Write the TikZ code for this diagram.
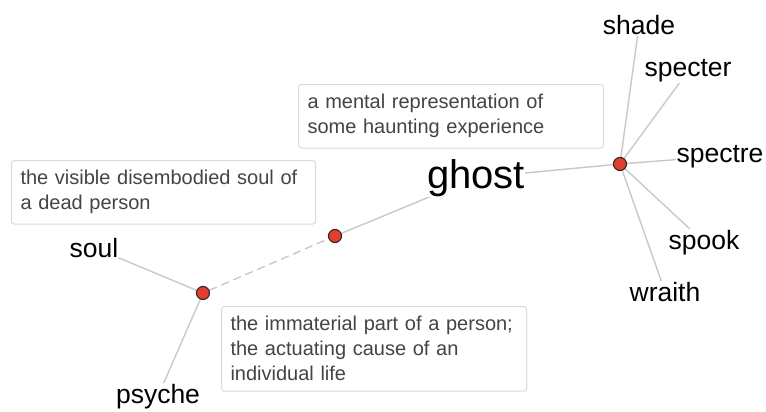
\documentclass[tikz,border=0pt]{standalone}
\usepackage{fontspec}
\setmainfont{Liberation Sans}
\usetikzlibrary{backgrounds}
\definecolor{dotred}{HTML}{E2402C}
\definecolor{dotedge}{HTML}{3A2A28}
\definecolor{linkgray}{HTML}{C9C9C9}
\definecolor{boxedge}{HTML}{DADADA}
\definecolor{desctext}{HTML}{444444}
\begin{document}
\begin{tikzpicture}[x=1pt,y=-1pt,
  sense/.style={circle,fill=dotred,draw=dotedge,line width=1.2pt,minimum size=13pt,inner sep=0pt},
  word/.style={anchor=base,fill=white,inner sep=0.5pt,text=black,font=\fontsize{26.5}{30}\selectfont},
  headword/.style={word,font=\fontsize{40}{46}\selectfont},
  link/.style={draw=linkgray,line width=1.4pt},
  dashlink/.style={link,dash pattern=on 8pt off 5pt},
  gloss/.style={draw=boxedge,line width=1pt,rounded corners=3pt,fill=white,anchor=north west,
    align=left,text=desctext,inner xsep=9pt,inner ysep=10pt,text width=287pt,
    font=\fontsize{20}{25}\selectfont}
]
\useasboundingbox (0,0) rectangle (766,412);

% sense dots
\node[sense] (d1) at (203,293) {};
\node[sense] (d2) at (335,236) {};
\node[sense] (d3) at (620,164) {};

% word labels
\node[headword] (ghost) at (476,188) {ghost};
\node[word] (soul) at (94,257) {soul};
\node[word] (psyche) at (158,403) {psyche};
\node[word] (shade) at (639,35) {shade};
\node[word] (specter) at (688,77) {specter};
\node[word] (spectre) at (720,162) {spectre};
\node[word] (spook) at (704,249) {spook};
\node[word] (wraith) at (665,301) {wraith};

% links, behind the labels and dots
\begin{scope}[on background layer]
  \fill[white] (0,0) rectangle (766,412);
  \path[link] (d1.center) -- (soul.center);
  \path[link] (d1.center) -- (psyche.center);
  \path[dashlink] (d1) -- (d2);
  \path[link] (d2.center) -- (ghost.center);
  \path[link] (d3.center) -- (ghost.center);
  \foreach \w in {shade,specter,spectre,spook,wraith}
    \path[link] (d3.center) -- (\w.center);
\end{scope}

% glosses
\node[gloss,text width=286pt] (g1) at (11,160) {the visible disembodied soul of\\a dead person};
\node[gloss] (g2) at (221,306) {the immaterial part of a person;\\the actuating cause of an\\individual life};
\node[gloss] (g3) at (298,84) {a mental representation of\\some haunting experience};
\end{tikzpicture}
\end{document}
